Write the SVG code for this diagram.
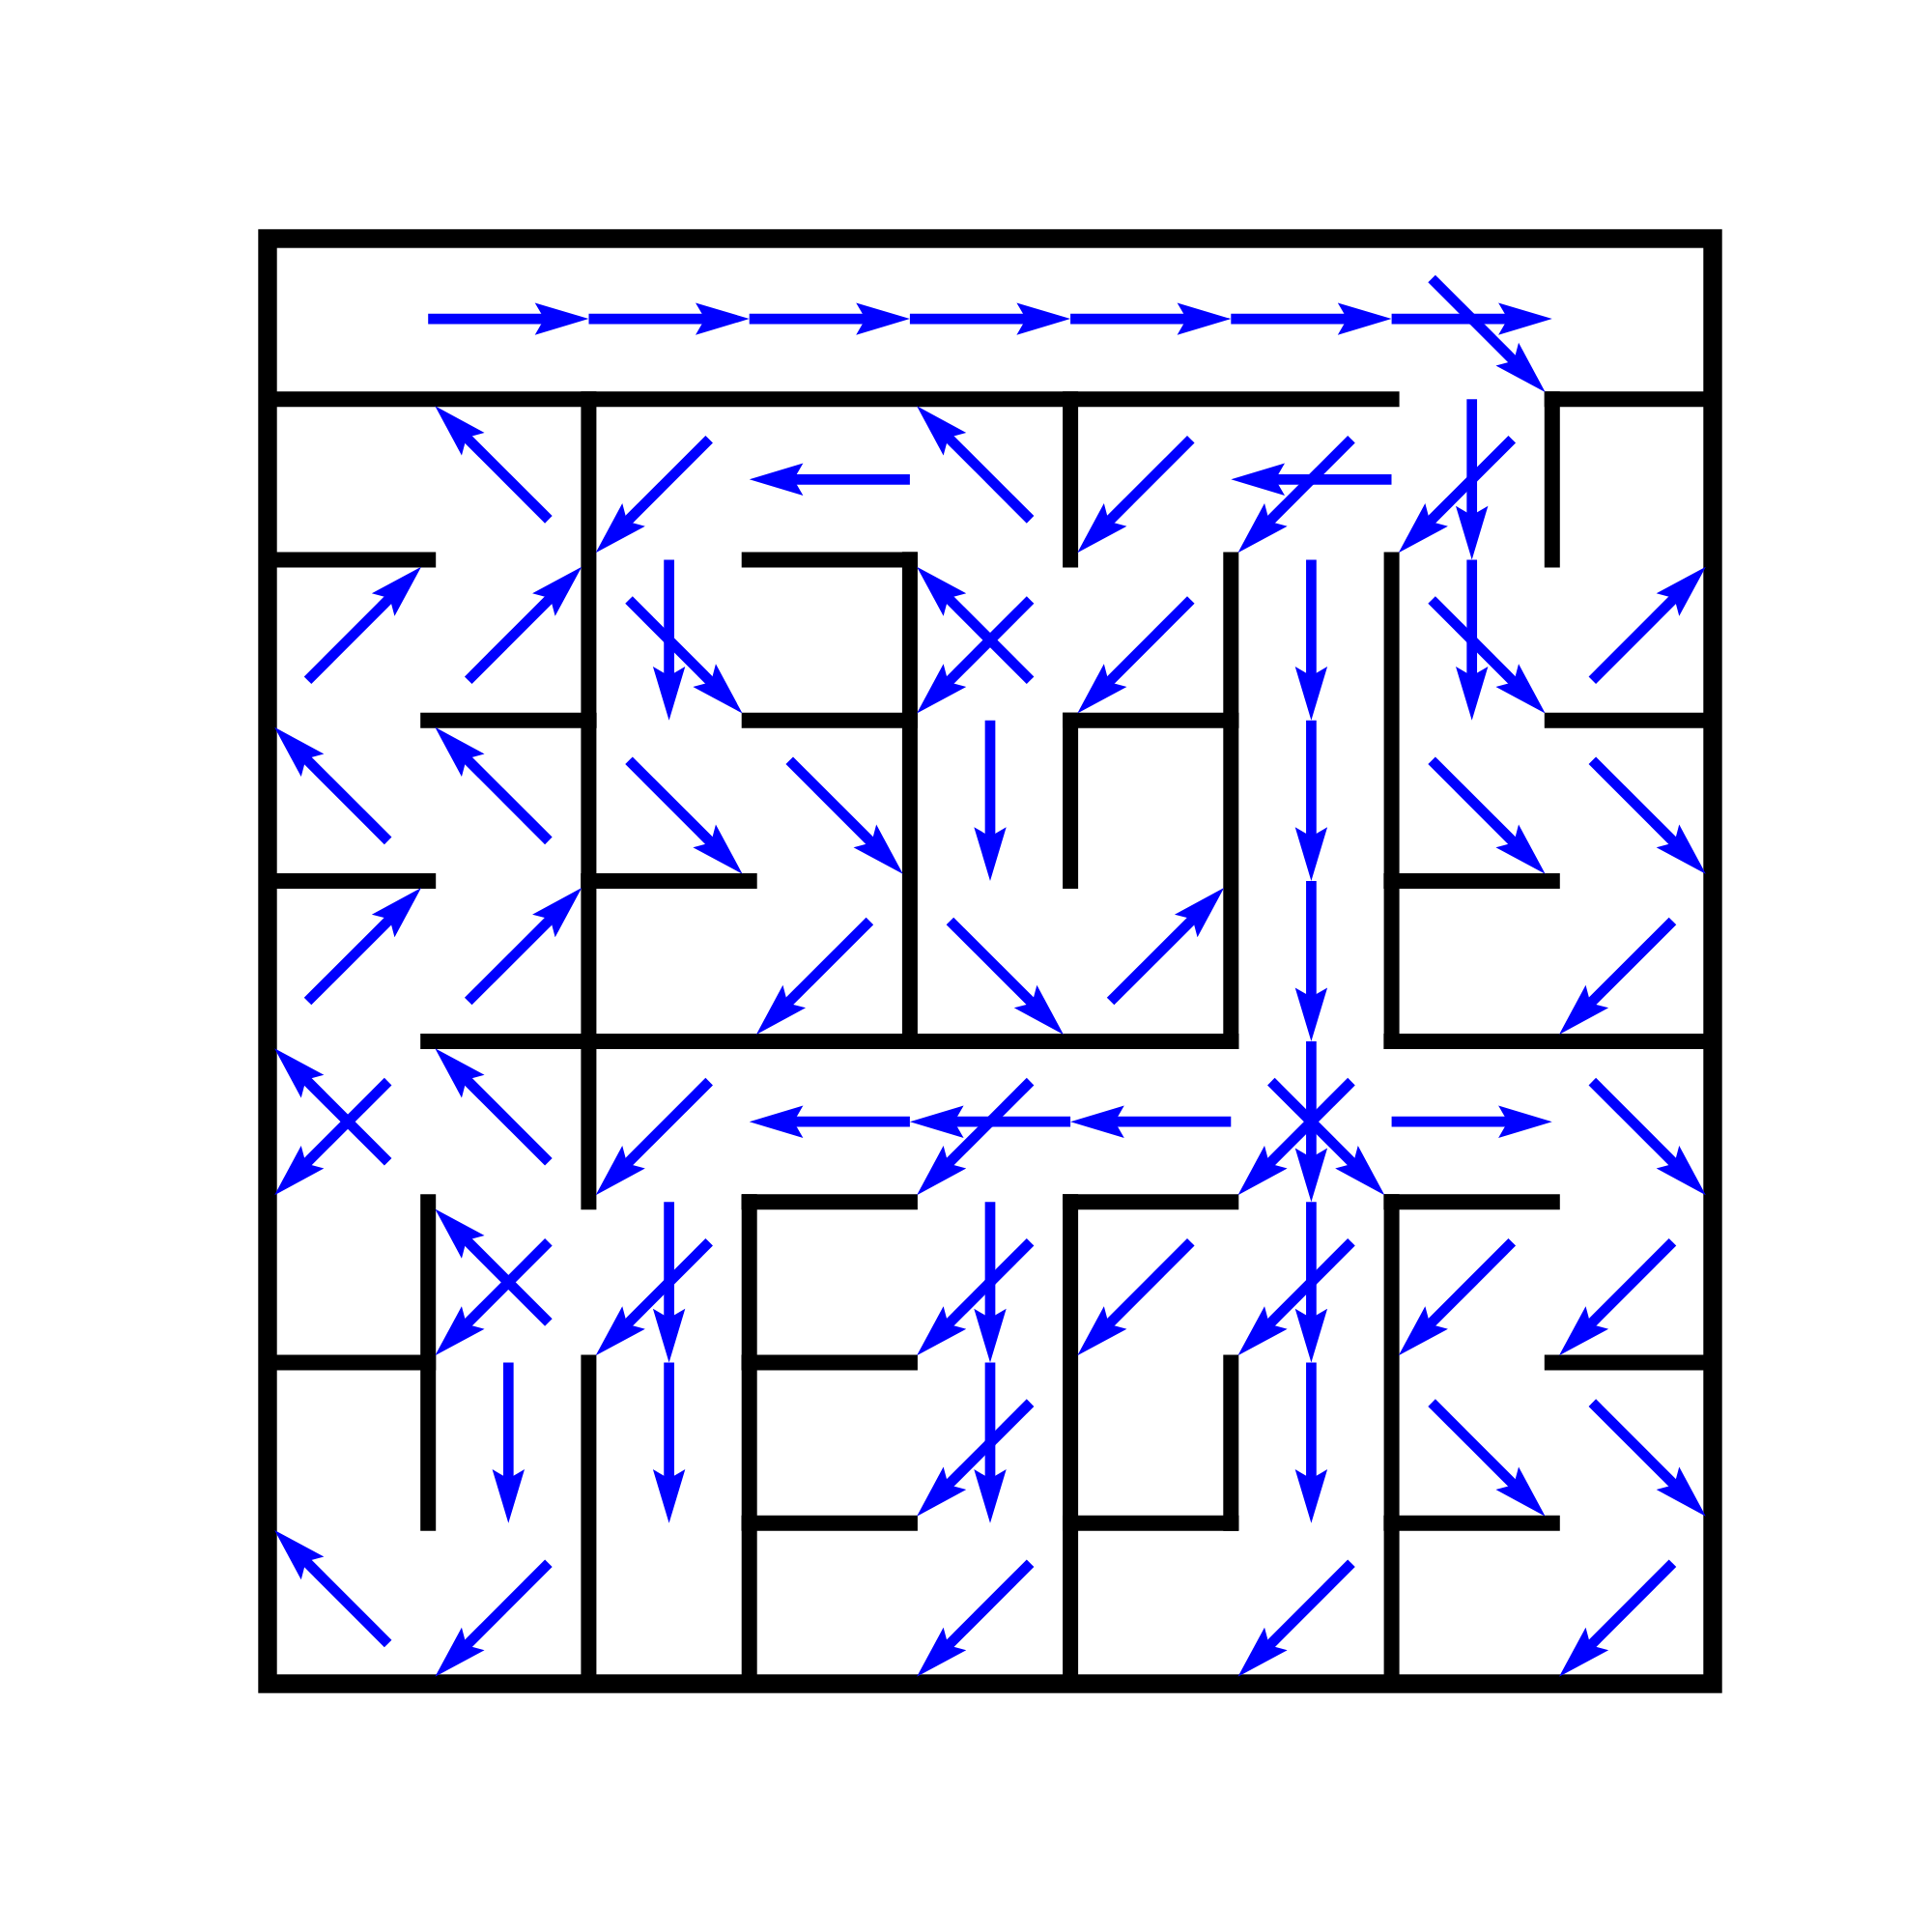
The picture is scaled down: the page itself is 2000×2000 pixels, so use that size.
<svg xmlns="http://www.w3.org/2000/svg" xmlns:xlink="http://www.w3.org/1999/xlink" width="2000" height="2000" viewBox="0 0 2000 2000">
<style>
.w{stroke:#000;stroke-width:16;stroke-linecap:square;fill:none}
.ob{stroke:#000;stroke-width:19.4;fill:none}
.sh{stroke:#0000ff;stroke-width:10.7;stroke-linecap:butt}
.hd{fill:#0000ff;stroke:none}
</style>
<defs>
<g id="as"><line class="sh" x1="-83.1" y1="0" x2="39.1" y2="0"/><path class="hd" d="M83.1,0 L27.4,-16.7 L37.1,0 L27.4,16.7 Z"/></g>
<g id="ad"><line class="sh" x1="-58.8" y1="0" x2="63.4" y2="0"/><path class="hd" d="M107.4,0 L51.7,-16.7 L61.4,0 L51.7,16.7 Z"/></g>
</defs>
<rect width="2000" height="2000" fill="#fff"/>
<g id="walls">
<rect class="ob" x="277" y="247" width="1496" height="1496"/>
<path class="w" d="M277,413.2H1440.6 M1606.8,413.2H1773 M277,579.4H443.2 M775.7,579.4H941.9 M443.2,745.7H609.4 M775.7,745.7H941.9 M1108.1,745.7H1274.3 M1606.8,745.7H1773 M277,911.9H443.2 M609.4,911.9H775.7 M1440.6,911.9H1606.8 M443.2,1078.1H1274.3 M1440.6,1078.1H1773 M775.7,1244.3H941.9 M1108.1,1244.3H1274.3 M1440.6,1244.3H1606.8 M277,1410.6H443.2 M775.7,1410.6H941.9 M1606.8,1410.6H1773 M775.7,1576.8H941.9 M1108.1,1576.8H1274.3 M1440.6,1576.8H1606.8"/>
<path class="w" d="M443.2,1244.3V1576.8 M609.4,413.2V1244.3 M609.4,1410.6V1743 M775.7,1244.3V1743 M941.9,579.4V1078.1 M1108.1,413.2V579.4 M1108.1,745.7V911.9 M1108.1,1244.3V1743 M1274.3,579.4V1078.1 M1274.3,1410.6V1576.8 M1440.6,579.4V1078.1 M1440.6,1244.3V1743 M1606.8,413.2V579.4"/>
</g>
<g id="arrows">
<!-- row 0 -->
<use href="#as" transform="translate(526.3,330.1)"/>
<use href="#as" transform="translate(692.6,330.1)"/>
<use href="#as" transform="translate(858.8,330.1)"/>
<use href="#as" transform="translate(1025,330.1)"/>
<use href="#as" transform="translate(1191.2,330.1)"/>
<use href="#as" transform="translate(1357.4,330.1)"/>
<use href="#as" transform="translate(1523.7,330.1)"/>
<use href="#ad" transform="translate(1523.7,330.1) rotate(45)"/>
<!-- row 1 -->
<use href="#ad" transform="translate(526.3,496.3) rotate(225)"/>
<use href="#ad" transform="translate(692.6,496.3) rotate(135)"/>
<use href="#as" transform="translate(858.8,496.3) rotate(180)"/>
<use href="#ad" transform="translate(1025,496.3) rotate(225)"/>
<use href="#ad" transform="translate(1191.2,496.3) rotate(135)"/>
<use href="#as" transform="translate(1357.4,496.3) rotate(180)"/>
<use href="#ad" transform="translate(1357.4,496.3) rotate(135)"/>
<use href="#as" transform="translate(1523.7,496.3) rotate(90)"/>
<use href="#ad" transform="translate(1523.7,496.3) rotate(135)"/>
<!-- row 2 -->
<use href="#ad" transform="translate(360.1,662.6) rotate(-45)"/>
<use href="#ad" transform="translate(526.3,662.6) rotate(-45)"/>
<use href="#as" transform="translate(692.6,662.6) rotate(90)"/>
<use href="#ad" transform="translate(692.6,662.6) rotate(45)"/>
<use href="#ad" transform="translate(1025,662.6) rotate(225)"/>
<use href="#ad" transform="translate(1025,662.6) rotate(135)"/>
<use href="#ad" transform="translate(1191.2,662.6) rotate(135)"/>
<use href="#as" transform="translate(1357.4,662.6) rotate(90)"/>
<use href="#as" transform="translate(1523.7,662.6) rotate(90)"/>
<use href="#ad" transform="translate(1523.7,662.6) rotate(45)"/>
<use href="#ad" transform="translate(1689.9,662.6) rotate(-45)"/>
<!-- row 3 -->
<use href="#ad" transform="translate(360.1,828.8) rotate(225)"/>
<use href="#ad" transform="translate(526.3,828.8) rotate(225)"/>
<use href="#ad" transform="translate(692.6,828.8) rotate(45)"/>
<use href="#ad" transform="translate(858.8,828.8) rotate(45)"/>
<use href="#as" transform="translate(1025,828.8) rotate(90)"/>
<use href="#as" transform="translate(1357.4,828.8) rotate(90)"/>
<use href="#ad" transform="translate(1523.7,828.8) rotate(45)"/>
<use href="#ad" transform="translate(1689.9,828.8) rotate(45)"/>
<!-- row 4 -->
<use href="#ad" transform="translate(360.1,995) rotate(-45)"/>
<use href="#ad" transform="translate(526.3,995) rotate(-45)"/>
<use href="#ad" transform="translate(858.8,995) rotate(135)"/>
<use href="#ad" transform="translate(1025,995) rotate(45)"/>
<use href="#ad" transform="translate(1191.2,995) rotate(-45)"/>
<use href="#as" transform="translate(1357.4,995) rotate(90)"/>
<use href="#ad" transform="translate(1689.9,995) rotate(135)"/>
<!-- row 5 -->
<use href="#ad" transform="translate(360.1,1161.2) rotate(225)"/>
<use href="#ad" transform="translate(360.1,1161.2) rotate(135)"/>
<use href="#ad" transform="translate(526.3,1161.2) rotate(225)"/>
<use href="#ad" transform="translate(692.6,1161.2) rotate(135)"/>
<use href="#as" transform="translate(858.8,1161.2) rotate(180)"/>
<use href="#as" transform="translate(1025,1161.2) rotate(180)"/>
<use href="#ad" transform="translate(1025,1161.2) rotate(135)"/>
<use href="#as" transform="translate(1191.2,1161.2) rotate(180)"/>
<use href="#as" transform="translate(1357.4,1161.2) rotate(90)"/>
<use href="#ad" transform="translate(1357.4,1161.2) rotate(135)"/>
<use href="#ad" transform="translate(1357.4,1161.2) rotate(45)"/>
<use href="#as" transform="translate(1523.7,1161.2)"/>
<use href="#ad" transform="translate(1689.9,1161.2) rotate(45)"/>
<!-- row 6 -->
<use href="#ad" transform="translate(526.3,1327.4) rotate(225)"/>
<use href="#ad" transform="translate(526.3,1327.4) rotate(135)"/>
<use href="#as" transform="translate(692.6,1327.4) rotate(90)"/>
<use href="#ad" transform="translate(692.6,1327.4) rotate(135)"/>
<use href="#as" transform="translate(1025,1327.4) rotate(90)"/>
<use href="#ad" transform="translate(1025,1327.4) rotate(135)"/>
<use href="#ad" transform="translate(1191.2,1327.4) rotate(135)"/>
<use href="#as" transform="translate(1357.4,1327.4) rotate(90)"/>
<use href="#ad" transform="translate(1357.4,1327.4) rotate(135)"/>
<use href="#ad" transform="translate(1523.7,1327.4) rotate(135)"/>
<use href="#ad" transform="translate(1689.9,1327.4) rotate(135)"/>
<!-- row 7 -->
<use href="#as" transform="translate(526.3,1493.7) rotate(90)"/>
<use href="#as" transform="translate(692.6,1493.7) rotate(90)"/>
<use href="#as" transform="translate(1025,1493.7) rotate(90)"/>
<use href="#ad" transform="translate(1025,1493.7) rotate(135)"/>
<use href="#as" transform="translate(1357.4,1493.7) rotate(90)"/>
<use href="#ad" transform="translate(1523.7,1493.7) rotate(45)"/>
<use href="#ad" transform="translate(1689.9,1493.7) rotate(45)"/>
<!-- row 8 -->
<use href="#ad" transform="translate(360.1,1659.9) rotate(225)"/>
<use href="#ad" transform="translate(526.3,1659.9) rotate(135)"/>
<use href="#ad" transform="translate(1025,1659.9) rotate(135)"/>
<use href="#ad" transform="translate(1357.4,1659.9) rotate(135)"/>
<use href="#ad" transform="translate(1689.9,1659.9) rotate(135)"/>
</g>
</svg>
